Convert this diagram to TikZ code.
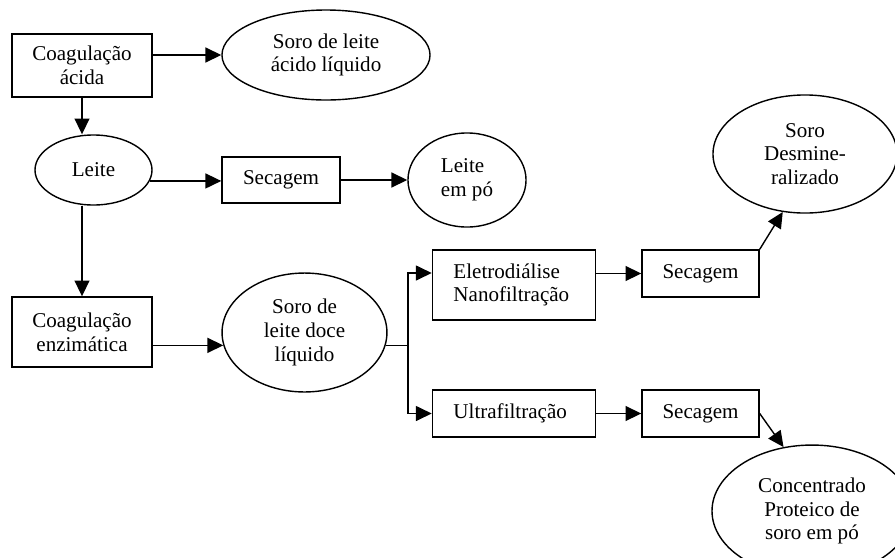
\documentclass[tikz,border=0pt]{standalone}
\usepackage{fontspec}
\setmainfont{Liberation Serif}
\usepackage{tikz}
\usetikzlibrary{arrows.meta,calc,shapes.geometric}
\tikzset{
  proc/.style={rectangle,draw,line width=.8pt,inner sep=2pt,align=center},
  prod/.style={ellipse,draw,line width=.8pt,inner sep=0pt,align=center},
  lproc/.style={proc,align=left,inner xsep=12pt,text width=69pt},
  flow/.style={-{Triangle[length=9pt,width=8.5pt]},line width=.8pt},
}
\begin{document}
\begin{tikzpicture}[x=0.57pt,y=-0.57pt,font=\fontsize{12}{13.5}\selectfont]
  \useasboundingbox (0,0) rectangle (895,557);
  \clip (0,0) rectangle (895,557);
  % first column
  \node[proc,minimum width=79.8pt,minimum height=35.9pt] (ca) at (82,65.5) {Coagulação\\ácida};
  \node[prod,minimum width=118.6pt,minimum height=51.3pt] (sa) at (326,55) {Soro de leite\\ácido líquido};
  \node[prod,minimum width=66.7pt,minimum height=39.9pt] (le) at (93.5,170) {Leite};
  \node[proc,minimum width=67.3pt,minimum height=26.2pt] (s1) at (281,180) {Secagem};
  \node[prod,minimum width=67.3pt,minimum height=53.6pt,align=left] (lp) at (467,180) {Leite\\em pó};
  \node[proc,minimum width=79.8pt,minimum height=39.9pt] (ce) at (82,332) {Coagulação\\enzimática};
  \node[prod,minimum width=94pt,minimum height=67.8pt] (sd) at (304.5,332.5) {Soro de\\leite doce\\líquido};
  % whey branches
  \coordinate (j) at (408,345);
  \node[lproc,minimum height=39.9pt] (el) at (514,285) {Eletrodiálise\\Nanofiltração};
  \node[lproc,minimum height=26.8pt] (uf) at (514,413.5) {Ultrafiltração};
  \node[proc,minimum width=66.7pt,minimum height=26.8pt] (s2) at (700.5,273.5) {Secagem};
  \node[proc,minimum width=66.7pt,minimum height=26.8pt] (s3) at (700.5,413.5) {Secagem};
  \node[prod,minimum width=104.9pt,minimum height=67.3pt] (sdm) at (805,154) {Soro\\Desmine-\\ralizado};
  \node[prod,minimum width=114pt,minimum height=75.2pt] (cp) at (812,511) {Concentrado\\Proteico de\\soro em pó};

  \draw[flow] (sa.west -| ca.east) -- (sa.west);
  \draw[flow] (ca.south) -- (ca.south |- le.north);
  \draw[flow] (le.-11) -- (le.-11 -| s1.west);
  \draw[flow] (s1) -- (lp);
  \draw[flow] (le.south -| ce.north) -- (ce.north);
  \draw[flow] (sd.189 -| ce.east) -- (sd.189);
  \draw (sd.351) -- (sd.351 -| j);
  \draw[flow] (sd.351 -| j) |- ($(el.west)+(0,-12)$);
  \draw[flow] (sd.351 -| j) |- (uf.west);
  \draw[flow] (s2.west -| el.east) -- (s2.west);
  \draw[flow] (uf.east) -- (s3.west);
  \draw[flow] (s2.north east) -- (sdm.249);
  \draw[flow] (s3.east) -- (cp.114);
\end{tikzpicture}
\end{document}
